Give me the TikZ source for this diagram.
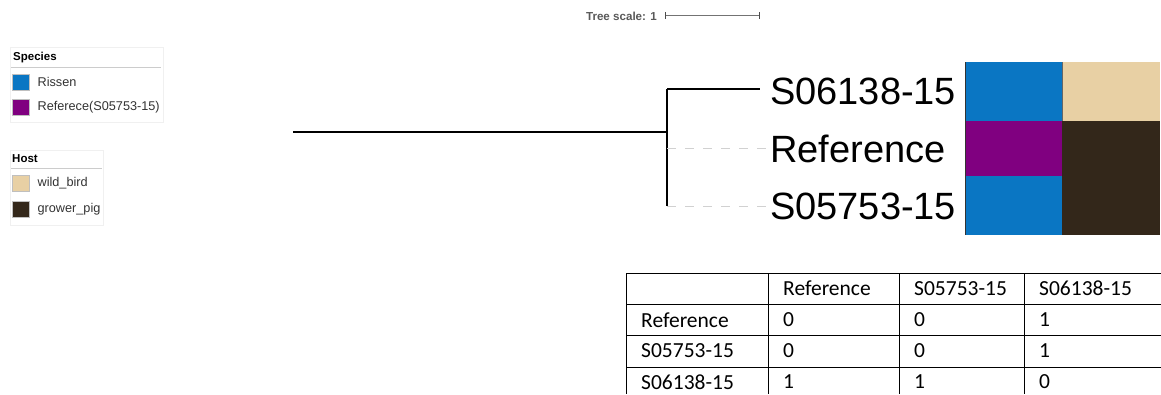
\documentclass[tikz,border=0pt]{standalone}
\usepackage{fontspec}
\setmainfont{Liberation Sans}
\newfontfamily\tabfont{Carlito}
\definecolor{spblue}{HTML}{0A76C3}
\definecolor{sppurple}{HTML}{800080}
\definecolor{hosttan}{HTML}{E8D0A4}
\definecolor{hostbrown}{HTML}{33271A}
\definecolor{leggray}{HTML}{CCCCCC}
\begin{document}
\begin{tikzpicture}[x=1pt,y=-1pt,
  legbox/.style={draw=black!6,line width=0.8pt,fill=white},
  legtitle/.style={anchor=west,inner sep=0pt,font=\fontsize{11.5}{12}\selectfont\bfseries},
  legtext/.style={anchor=west,inner sep=0pt,font=\fontsize{12.7}{13}\selectfont,text=black!80},
  swatch/.style={draw=black!25,line width=0.4pt,minimum width=17pt,minimum height=16pt,inner sep=0pt},
  branch/.style={line width=1.3pt,black},
  dashbranch/.style={line width=0.9pt,black!18,dash pattern=on 9pt off 9pt},
  leaf/.style={anchor=west,inner sep=0pt,font=\fontsize{38}{38}\selectfont},
  tabtext/.style={anchor=west,inner sep=0pt,font=\tabfont\fontsize{21.5}{22}\selectfont},
  tabline/.style={line width=0.8pt,black}]
\useasboundingbox (0,0) rectangle (1161,394);
\fill[white] (0,0) rectangle (1161,394);

% tree scale
\node[anchor=east,inner sep=0pt,font=\fontsize{11.6}{12}\selectfont\bfseries,text=black!65] (scaletxt) at (657,16) {Tree scale: 1};
\coordinate (sa) at (665,15);
\coordinate (sb) at (759,15);
\draw[black!55,line width=0.8pt] (sa) -- (sb);
\draw[black!70,line width=1pt] ([yshift=-3.5pt]sa) -- ([yshift=3.5pt]sa);
\draw[black!70,line width=1pt] ([yshift=-3.5pt]sb) -- ([yshift=3.5pt]sb);

% legend species
\node[legbox,minimum width=153pt,minimum height=75pt,anchor=north west,inner sep=0pt] (legsp) at (10,47) {};
\node[legtitle] (sptitle) at (13,58) {Species};
\draw[leggray,line width=1.6pt] (11,67.5) -- (161,67.5);
\node[swatch,fill=spblue,anchor=north west] (swa) at (12,74) {};
\node[legtext] (ta) at ([xshift=8pt]swa.east) {Rissen};
\node[swatch,fill=sppurple,anchor=north west] (swb) at (12,99) {};
\node[legtext] (tb) at ([xshift=8pt]swb.east) {Referece(S05753-15)};

% legend host
\node[legbox,minimum width=93pt,minimum height=75pt,anchor=north west,inner sep=0pt] (legh) at (10,150) {};
\node[legtitle] (htitle) at (12,158.5) {Host};
\draw[leggray,line width=1.6pt] (11,168.5) -- (102,168.5);
\node[swatch,fill=hosttan,anchor=north west] (swc) at (12,175) {};
\node[legtext] (tc) at ([xshift=8pt]swc.east) {wild\_bird};
\node[swatch,fill=hostbrown,anchor=north west] (swd) at (12,201) {};
\node[legtext] (td) at ([xshift=8pt]swd.east) {grower\_pig};

% tree
\coordinate (root) at (293,132);
\coordinate (inner) at (667,132);
\coordinate (vtop) at (667,89);
\coordinate (vmid) at (667,148);
\coordinate (vbot) at (667,206);
\node[leaf] (l1) at (770,91) {S06138-15};
\node[leaf] (l2) at (770,149) {Reference};
\node[leaf] (l3) at (770,206) {S05753-15};
\draw[branch] (root) -- (inner);
\draw[branch] (vtop) -- (vbot);
\draw[branch] (vtop) -- (760,89);
\draw[dashbranch] (vmid) -- (l2.west |- vmid);
\draw[dashbranch] (vbot) -- (l3.west |- vbot);

% colour strips
\fill[spblue] (965,62) rectangle (1062,121);
\fill[sppurple] (965,121) rectangle (1062,176);
\fill[spblue] (965,176) rectangle (1062,235);
\fill[hosttan] (1062,62) rectangle (1160,121);
\fill[hostbrown] (1062,121) rectangle (1160,235);
\draw[black!80,line width=0.8pt] (965,62) -- (965,235);
\draw[black!60,line width=0.8pt] (1062,62) -- (1062,121);

% table
\foreach \y in {273,304,335.5,367} \draw[tabline] (626,\y) -- (1161,\y);
\foreach \x in {626,768,899,1024} \draw[tabline] (\x,273) -- (\x,394);
\node[tabtext] (h1) at (783,288.5) {Reference};
\node[tabtext] (h2) at (914,288.5) {S05753-15};
\node[tabtext] (h3) at (1039,288.5) {S06138-15};
\node[tabtext] (r1) at (641,320) {Reference};
\node[tabtext] (r2) at (641,351) {S05753-15};
\node[tabtext] (r3) at (641,382) {S06138-15};
\node[tabtext] (c11) at (783,320) {0};
\node[tabtext] (c12) at (914,320) {0};
\node[tabtext] (c13) at (1039,320) {1};
\node[tabtext] (c21) at (783,351) {0};
\node[tabtext] (c22) at (914,351) {0};
\node[tabtext] (c23) at (1039,351) {1};
\node[tabtext] (c31) at (783,382) {1};
\node[tabtext] (c32) at (914,382) {1};
\node[tabtext] (c33) at (1039,382) {0};
\end{tikzpicture}
\end{document}
